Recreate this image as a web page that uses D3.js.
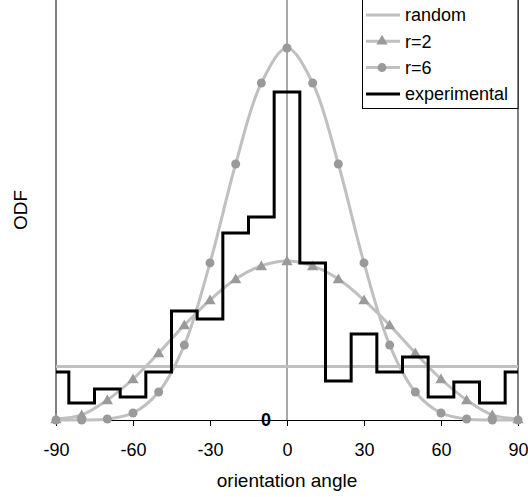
<!DOCTYPE html>
<html>
<head>
<meta charset="utf-8">
<script src="https://cdn.jsdelivr.net/npm/d3@7"></script>
<style>
  body { margin: 0; background: #fff; }
  text { font-family: "Liberation Sans", Arial, sans-serif; }
</style>
</head>
<body>
<div id="chart"></div>
<script>
// Data (angle in degrees, ODF values)
const angles = [-90, -80, -70, -60, -50, -40, -30, -20, -10, 0, 10, 20, 30, 40, 50, 60, 70, 80, 90];
const randomOdf = 0.318;
const r2Values = [0.006, 0.030, 0.119, 0.244, 0.399, 0.565, 0.714, 0.839, 0.917, 0.946, 0.917, 0.839, 0.714, 0.565, 0.399, 0.244, 0.119, 0.030, 0.006];
const r6Values = [0, 0, 0.006, 0.042, 0.167, 0.446, 0.935, 1.524, 2.006, 2.214, 2.006, 1.524, 0.935, 0.446, 0.167, 0.042, 0.006, 0, 0];
const expValues = [0.286, 0.101, 0.185, 0.137, 0.286, 0.649, 0.601, 1.113, 1.208, 1.952, 0.935, 0.232, 0.512, 0.286, 0.375, 0.137, 0.226, 0.101, 0.286];
const xTicks = [-90, -60, -30, 0, 30, 60, 90];
const legendNames = ["random", "r=2", "r=6", "experimental"];

const W = 528, H = 497;
const margin = { top: 0, right: 10, bottom: 77, left: 56 },
  width = W - margin.left - margin.right,
  height = 420;

const svg = d3
  .select("#chart")
  .append("svg")
  .attr("width", W)
  .attr("height", H);

const x = d3.scaleLinear().domain([-90, 90]).range([margin.left, margin.left + width]);
const y = d3.scaleLinear().domain([0, 2.5]).range([height, margin.top]);

const lineGrey = "#c0c0c0",
  markGrey = "#9a9a9a";

// frame: left axis, right border, centre line at 0
svg.append("line")
  .attr("x1", x(-90)).attr("x2", x(-90))
  .attr("y1", 0).attr("y2", y(0))
  .attr("stroke", "#000").attr("stroke-width", 1);
svg.append("line")
  .attr("x1", x(90)).attr("x2", x(90))
  .attr("y1", 0).attr("y2", y(0))
  .attr("stroke", "#000").attr("stroke-width", 1);
svg.append("line")
  .attr("x1", x(0)).attr("x2", x(0))
  .attr("y1", 0).attr("y2", y(0))
  .attr("stroke", "#555").attr("stroke-width", 1);

// x axis (plain hyphen for negatives, as in the original)
const xAxis = svg
  .append("g")
  .attr("transform", `translate(0,${y(0)})`)
  .call(
    d3.axisBottom(x)
      .tickValues(xTicks)
      .tickFormat((d) => String(d))
      .tickSize(6)
      .tickSizeOuter(0)
      .tickPadding(17)
  );
xAxis.select(".domain").attr("stroke", "#000");
xAxis.selectAll(".tick line").attr("stroke", "#000");
xAxis.selectAll("text")
  .attr("font-size", 18)
  .attr("fill", "#000")
  .style("font-family", '"Liberation Sans", Arial, sans-serif');

// random
svg.append("line")
  .attr("x1", x(-90)).attr("x2", x(90))
  .attr("y1", y(randomOdf)).attr("y2", y(randomOdf))
  .attr("stroke", lineGrey).attr("stroke-width", 3);

const smooth = d3.line()
  .x((d) => x(d[0]))
  .y((d) => y(d[1]))
  .curve(d3.curveCatmullRom.alpha(0.5));

const r2Data = angles.map((a, i) => [a, r2Values[i]]);
const r6Data = angles.map((a, i) => [a, r6Values[i]]);
const expData = angles.map((a, i) => [a, expValues[i]]);

// r=2 curve with triangles
svg.append("path")
  .datum(r2Data)
  .attr("fill", "none")
  .attr("stroke", lineGrey)
  .attr("stroke-width", 3)
  .attr("d", smooth);
svg.selectAll(".tri")
  .data(r2Data)
  .enter()
  .append("path")
  .attr("class", "tri")
  .attr("d", d3.symbol().type(d3.symbolTriangle).size(55))
  .attr("transform", (d) => `translate(${x(d[0])},${y(d[1]) + 1})`)
  .attr("fill", markGrey);

// r=6 curve with circles
svg.append("path")
  .datum(r6Data)
  .attr("fill", "none")
  .attr("stroke", lineGrey)
  .attr("stroke-width", 3)
  .attr("d", smooth);
svg.selectAll(".dot")
  .data(r6Data)
  .enter()
  .append("circle")
  .attr("class", "dot")
  .attr("r", 4.5)
  .attr("cx", (d) => x(d[0]))
  .attr("cy", (d) => y(d[1]))
  .attr("fill", markGrey);

// experimental histogram
svg.append("path")
  .datum(expData)
  .attr("fill", "none")
  .attr("stroke", "#000")
  .attr("stroke-width", 3)
  .attr("d", d3.line().x((d) => x(d[0])).y((d) => y(d[1])).curve(d3.curveStep));

// bold 0 label
svg.append("text")
  .attr("x", x(0) - 21)
  .attr("y", y(0))
  .attr("dy", "0.36em")
  .attr("text-anchor", "middle")
  .attr("font-size", 18)
  .attr("font-weight", "bold")
  .text("0");

// axis titles
svg.append("text")
  .attr("x", x(0))
  .attr("y", 487)
  .attr("text-anchor", "middle")
  .attr("font-size", 19)
  .text("orientation angle");
svg.append("text")
  .attr("transform", `translate(27,${height / 2}) rotate(-90)`)
  .attr("text-anchor", "middle")
  .attr("font-size", 19)
  .text("ODF");

// legend
const lg = svg.append("g");
lg.append("rect")
  .attr("x", 362.5).attr("y", -1)
  .attr("width", x(90) - 362.5).attr("height", 109.5)
  .attr("fill", "#fff").attr("stroke", "#000").attr("stroke-width", 1);
legendNames.forEach((name, i) => {
  const ly = 15 + i * 26.3;
  lg.append("line")
    .attr("x1", 366).attr("x2", 400)
    .attr("y1", ly).attr("y2", ly)
    .attr("stroke", i === 3 ? "#000" : lineGrey)
    .attr("stroke-width", 3);
  if (i === 1) {
    lg.append("path")
      .attr("d", d3.symbol().type(d3.symbolTriangle).size(55))
      .attr("transform", `translate(382,${ly})`)
      .attr("fill", markGrey);
  }
  if (i === 2) {
    lg.append("circle").attr("cx", 382).attr("cy", ly).attr("r", 4.5).attr("fill", markGrey);
  }
  lg.append("text")
    .attr("x", 405)
    .attr("y", ly)
    .attr("dy", "0.35em")
    .attr("font-size", 18)
    .text(name);
});
</script>
</body>
</html>
